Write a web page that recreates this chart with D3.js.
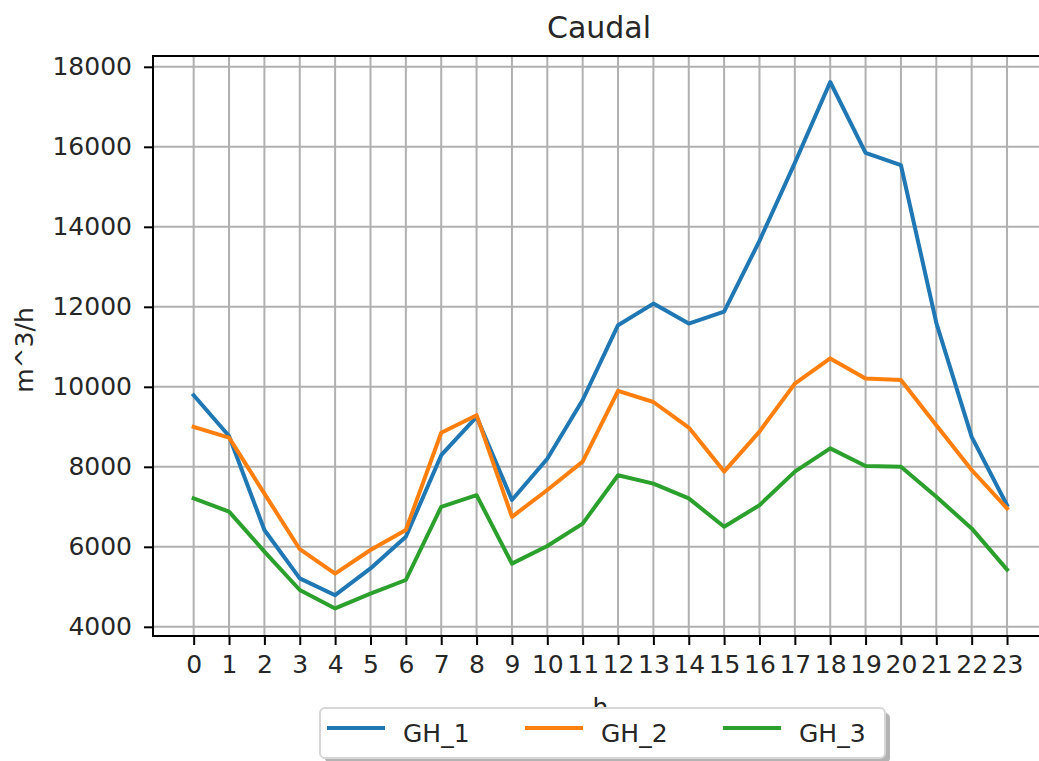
<!DOCTYPE html>
<html>
<head>
  <script src="https://d3js.org/d3.v7.min.js"></script>
  <style>
    body { margin: 0; background: #fff; }
    text { font-family: "DejaVu Sans", sans-serif; fill: #262626; }
  </style>
</head>
<body>
  <svg id="chart"></svg>
  <script>
    // Data
    const hours = d3.range(0, 24);
    const seriesNames = ["GH_1", "GH_2", "GH_3"];
    const gh1 = [9790, 8770, 6420, 5210, 4790, 5460, 6250, 8290, 9250, 7170, 8200, 9670,
                 11540, 12080, 11580, 11880, 13650, 15600, 17620, 15850, 15540, 11600, 8750, 7040];
    const gh2 = [9000, 8730, 7330, 5940, 5330, 5920, 6420, 8850, 9290, 6750, 7420, 8130,
                 9900, 9620, 8980, 7880, 8880, 10080, 10710, 10210, 10170, 9040, 7920, 6960];
    const gh3 = [7210, 6880, 5880, 4920, 4460, 4830, 5170, 7000, 7290, 5580, 6020, 6580,
                 7790, 7580, 7210, 6500, 7040, 7880, 8460, 8020, 8000, 7250, 6460, 5430];
    const yTicks = [4000, 6000, 8000, 10000, 12000, 14000, 16000, 18000];
    const colors = ["#1f77b4", "#ff7f0e", "#2ca02c"];

    const series = [gh1, gh2, gh3];

    const W = 1039, H = 761;
    const margin = {left: 153, top: 56, bottom: 636, right: 1047.7};

    const svg = d3.select("#chart")
      .attr("width", W)
      .attr("height", H);

    // Scales (matplotlib-like 5% margins)
    const xScale = d3.scaleLinear()
      .domain([-1.15, 24.15])
      .range([margin.left, margin.right]);

    const yScale = d3.scaleLinear()
      .domain([3770, 18270])
      .range([margin.bottom, margin.top]);

    // Grid
    const grid = svg.append("g");
    grid.selectAll(".vgrid")
      .data(hours)
      .enter().append("line")
      .attr("x1", d => xScale(d)).attr("x2", d => xScale(d))
      .attr("y1", margin.top).attr("y2", margin.bottom)
      .style("stroke", "#b0b0b0").style("stroke-width", 2);
    grid.selectAll(".hgrid")
      .data(yTicks)
      .enter().append("line")
      .attr("x1", margin.left).attr("x2", margin.right)
      .attr("y1", d => yScale(d)).attr("y2", d => yScale(d))
      .style("stroke", "#b0b0b0").style("stroke-width", 2);

    // Lines
    const line = d3.line()
      .x((d, i) => xScale(hours[i]))
      .y(d => yScale(d));

    svg.selectAll(".series")
      .data(series)
      .enter().append("path")
      .attr("d", d => line(d))
      .style("fill", "none")
      .style("stroke", (d, i) => colors[i])
      .style("stroke-width", 4)
      .style("stroke-linejoin", "round")
      .style("stroke-linecap", "square");

    // Axes
    const xAxis = d3.axisBottom(xScale)
      .tickValues(hours)
      .tickSize(9)
      .tickPadding(10)
      .tickFormat(d3.format("d"));

    const yAxis = d3.axisLeft(yScale)
      .tickValues(yTicks)
      .tickSize(9)
      .tickPadding(12)
      .tickFormat(d3.format("d"));

    const gx = svg.append("g")
      .attr("transform", `translate(0,${margin.bottom})`)
      .call(xAxis);
    const gy = svg.append("g")
      .attr("transform", `translate(${margin.left},0)`)
      .call(yAxis);

    [gx, gy].forEach(g => {
      g.select(".domain").remove();
      g.selectAll(".tick line").style("stroke", "#000").style("stroke-width", 2);
      g.selectAll(".tick text")
        .style("font-size", "25px")
        .style("font-family", "DejaVu Sans")
        .style("fill", "#262626");
    });

    // Spines (right spine falls outside the picture)
    svg.append("path")
      .attr("d", `M${margin.right},${margin.top}H${margin.left}V${margin.bottom}H${margin.right}`)
      .style("fill", "none")
      .style("stroke", "#000")
      .style("stroke-width", 2);

    // Title and axis labels
    svg.append("text")
      .attr("x", 599)
      .attr("y", 38)
      .attr("text-anchor", "middle")
      .style("font-size", "30px")
      .text("Caudal");

    svg.append("text")
      .attr("transform", "translate(33,350) rotate(-90)")
      .attr("text-anchor", "middle")
      .style("font-size", "25px")
      .text("m^3/h");

    svg.append("text")
      .attr("x", (margin.left + margin.right) / 2)
      .attr("y", 716)
      .attr("text-anchor", "middle")
      .style("font-size", "25px")
      .text("h");

    // Legend
    const legendBox = { x: 320, y: 708, w: 565, h: 50 };
    svg.append("rect")
      .attr("x", legendBox.x + 5).attr("y", legendBox.y + 5)
      .attr("width", legendBox.w).attr("height", legendBox.h)
      .attr("rx", 5)
      .style("fill", "#808080").style("opacity", 0.6);
    svg.append("rect")
      .attr("x", legendBox.x).attr("y", legendBox.y)
      .attr("width", legendBox.w).attr("height", legendBox.h)
      .attr("rx", 5)
      .style("fill", "#fff")
      .style("stroke", "#d6d6d6")
      .style("stroke-width", 2);

    const legend = svg.selectAll(".legend")
      .data(seriesNames)
      .enter().append("g")
      .attr("transform", (d, i) => `translate(${legendBox.x + 7 + i * 198},${legendBox.y})`);

    legend.append("line")
      .attr("x1", 0).attr("x2", 58)
      .attr("y1", 20).attr("y2", 20)
      .style("stroke", (d, i) => colors[i])
      .style("stroke-width", 4);

    legend.append("text")
      .attr("x", 76)
      .attr("y", 33.5)
      .style("font-size", "25px")
      .text(d => d);
  </script>
</body>
</html>
